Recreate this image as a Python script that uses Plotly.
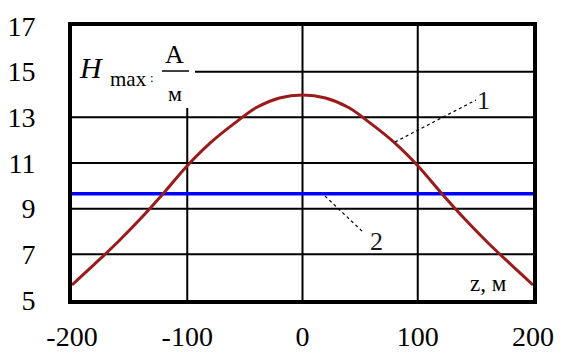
import plotly.graph_objects as go

# Data
z_vals = [-200, -180, -160, -140, -120, -100, -80, -60, -40, -20, 0,
          20, 40, 60, 80, 100, 120, 140, 160, 180, 200]
h_curve1 = [5.66, 6.59, 7.55, 8.59, 9.71, 10.88, 11.88, 12.7, 13.43, 13.85, 13.98,
            13.85, 13.43, 12.7, 11.88, 10.88, 9.71, 8.59, 7.55, 6.59, 5.66]
h_line2 = [9.65] * len(z_vals)
x_ticks = [-200, -100, 0, 100, 200]
y_ticks = [5, 7, 9, 11, 13, 15, 17]

W, H = 571, 354
L, R, T, B = 72, 38, 26, 54
X0, X1, Y0, Y1 = -200, 200, 5, 17

def px2x(p):
    return X0 + (p - L) / (W - L - R) * (X1 - X0)

def px2y(p):
    return Y1 - (p - T) / (H - T - B) * (Y1 - Y0)

serif = "Liberation Serif"

fig = go.Figure()
fig.add_trace(go.Scatter(x=z_vals, y=h_line2, mode="lines",
                         line=dict(color="#0000FF", width=3.5), showlegend=False))
fig.add_trace(go.Scatter(x=z_vals, y=h_curve1, mode="lines", line_shape="spline",
                         line=dict(color="#9B1B1B", width=3, smoothing=1), showlegend=False))

shapes = []
grid = dict(color="black", width=2)
for yv in [7, 9, 11, 13]:
    shapes.append(dict(type="line", x0=X0, x1=X1, y0=yv, y1=yv, line=grid, layer="below"))
shapes.append(dict(type="line", x0=px2x(195), x1=X1, y0=15, y1=15, line=grid, layer="below"))
shapes.append(dict(type="line", x0=-100, x1=-100, y0=Y0, y1=px2y(108), line=grid, layer="below"))
for xv in [0, 100]:
    shapes.append(dict(type="line", x0=xv, x1=xv, y0=Y0, y1=Y1, line=grid, layer="below"))
# fraction bar in the axis label
shapes.append(dict(type="line", x0=px2x(162), x1=px2x(189), y0=px2y(71), y1=px2y(71),
                   line=dict(color="black", width=1.5)))
# leader lines
lead = dict(color="black", width=1.2, dash="dot")
shapes.append(dict(type="line", x0=px2x(395), y0=px2y(142), x1=px2x(476), y1=px2y(100), line=lead))
shapes.append(dict(type="line", x0=px2x(325), y0=px2y(196), x1=px2x(363), y1=px2y(232), line=lead))

ann = []
def add_text(px, py, text, size, italic=False, color="black"):
    t = f"<i>{text}</i>" if italic else text
    ann.append(dict(x=px2x(px), y=px2y(py), text=t, showarrow=False,
                    font=dict(family=serif, size=size, color=color),
                    xanchor="center", yanchor="middle"))

add_text(91, 67, "H", 30, italic=True)
add_text(128, 79, "max", 21)
add_text(152, 77, ":", 13)
add_text(174, 54, "A", 26)
add_text(175, 93, "м", 22)
add_text(483, 100, "1", 26, color="#1a1a1a")
add_text(376, 241, "2", 26, color="#1a1a1a")
add_text(488, 283, "z, м", 23)

fig.update_layout(
    width=W, height=H,
    margin=dict(l=L, r=R, t=T, b=B, pad=0),
    paper_bgcolor="white", plot_bgcolor="white",
    shapes=shapes, annotations=ann,
    xaxis=dict(range=[X0, X1], tickvals=x_ticks, ticktext=[str(v) for v in x_ticks],
               showgrid=False, zeroline=False, showline=True, linecolor="black",
               linewidth=4, mirror=True, ticks="", ticklabelstandoff=8, automargin=False,
               tickfont=dict(family=serif, size=28, color="black")),
    yaxis=dict(range=[Y0, Y1], tickvals=y_ticks, ticktext=[str(v) for v in y_ticks],
               showgrid=False, zeroline=False, showline=True, linecolor="black",
               linewidth=4, mirror=True, ticks="", ticklabelstandoff=27, automargin=False,
               tickfont=dict(family=serif, size=28, color="black")),
)

fig.write_html("out.html")
